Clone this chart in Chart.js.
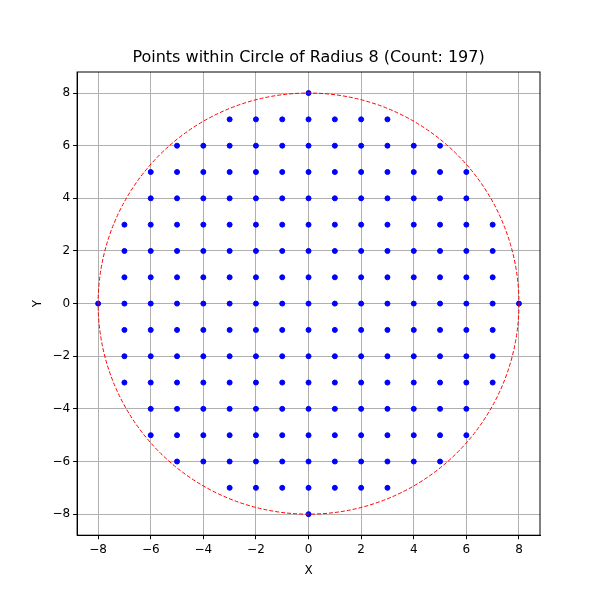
<!DOCTYPE html>
<html>
<head>
<script src="https://cdn.jsdelivr.net/npm/chart.js@4"></script>
<style>body{margin:0;background:#fff}</style>
</head>
<body>
<canvas id="c" width="600" height="600"></canvas>
<script>
// rows of lattice points: y value and half-width in x
const rowY = [8, 7, 6, 5, 4, 3, 2, 1, 0, -1, -2, -3, -4, -5, -6, -7, -8];
const rowHalf = [0, 3, 5, 6, 6, 7, 7, 7, 8, 7, 7, 7, 6, 6, 5, 3, 0];
const radius = 8;
const tickVals = [-8, -6, -4, -2, 0, 2, 4, 6, 8];
const titleText = 'Points within Circle of Radius 8 (Count: 197)';

const pts = [];
rowY.forEach((y, i) => {
	for (let x = -rowHalf[i]; x <= rowHalf[i]; x++) pts.push({ x, y });
});

const circlePlugin = {
	id: 'circle',
	afterDatasetsDraw(chart) {
		const { ctx, chartArea: a, scales: { x, y } } = chart;
		const cx = x.getPixelForValue(0), cy = y.getPixelForValue(0);
		const rx = x.getPixelForValue(radius) - cx;
		const ry = cy - y.getPixelForValue(radius);
		ctx.save();
		ctx.strokeStyle = 'red';
		ctx.lineWidth = 1;
		ctx.setLineDash([4, 2]);
		ctx.beginPath();
		ctx.ellipse(cx, cy, rx, ry, 0, 0, Math.PI * 2);
		ctx.stroke();
		ctx.setLineDash([]);
		ctx.strokeStyle = '#000';
		ctx.strokeRect(a.left, a.top, a.right - a.left, a.bottom - a.top);
		ctx.fillStyle = '#000';
		ctx.font = '16px "DejaVu Sans"';
		ctx.textAlign = 'center';
		ctx.textBaseline = 'bottom';
		ctx.fillText(titleText, (a.left + a.right) / 2, a.top - 6);
		ctx.restore();
	}
};

const tickOpts = {
	color: '#000', font: { family: 'DejaVu Sans', size: 12 },
	callback: v => String(v).replace('-', '\u2212')
};
const axis = (title) => ({
	type: 'linear', min: -8.8, max: 8.8,
	afterBuildTicks: s => { s.ticks = tickVals.map(v => ({ value: v })); },
	grid: { color: '#b0b0b0', drawTicks: true, tickLength: 4, tickColor: '#000' },
	border: { color: '#000' },
	ticks: tickOpts,
	title: { display: true, text: title, color: '#000', font: { family: 'DejaVu Sans', size: 12 } }
});

new Chart(document.getElementById('c'), {
	type: 'scatter',
	data: {
		datasets: [{
			data: pts,
			backgroundColor: 'blue',
			borderColor: 'blue',
			pointRadius: 2.5,
			pointHoverRadius: 2.5
		}]
	},
	options: {
		responsive: false,
		animation: false,
		layout: { padding: { left: 27, right: 60, top: 72, bottom: 18 } },
		plugins: {
			legend: { display: false },
			tooltip: { enabled: false },
			title: { display: false }
		},
		scales: { x: axis('X'), y: axis('Y') }
	},
	plugins: [circlePlugin]
});
</script>
</body>
</html>
